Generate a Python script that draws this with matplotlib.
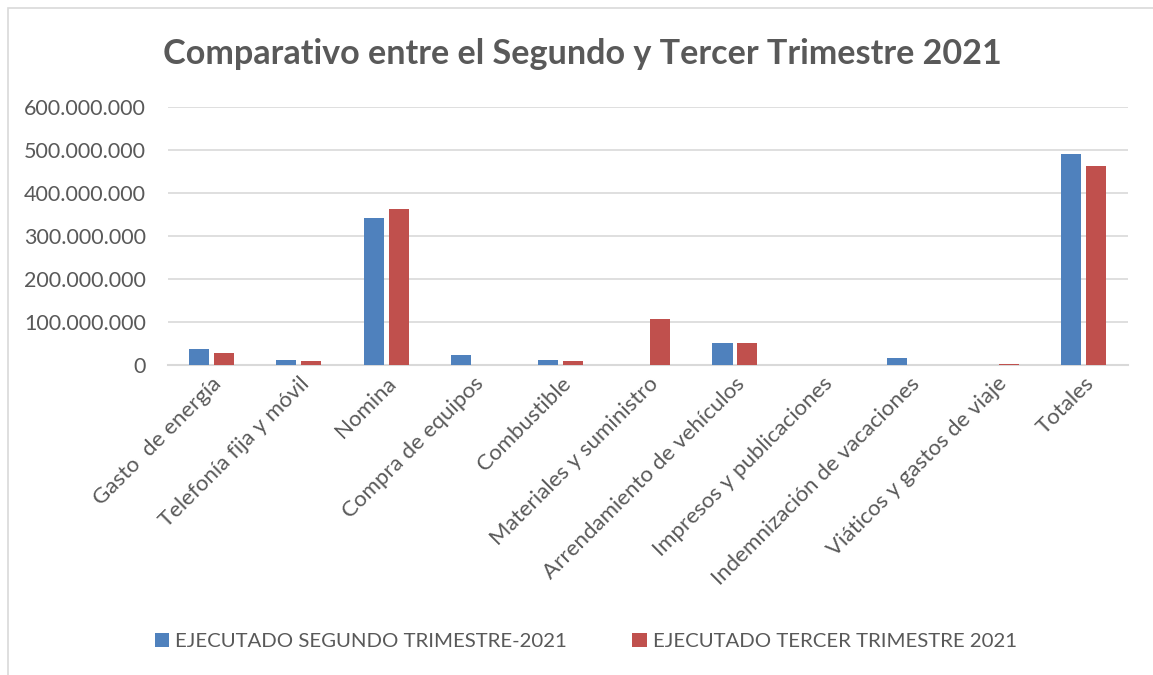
import numpy as np
import matplotlib.pyplot as plt
from matplotlib.ticker import FuncFormatter
from matplotlib.patches import Rectangle

plt.rcParams['font.family'] = ['Lato', 'DejaVu Sans']

categorias = ["Gasto  de energía", "Telefonía fija y móvil", "Nomina", "Compra de equipos",
              "Combustible", "Materiales y suministro", "Arrendamiento de vehículos",
              "Impresos y publicaciones", "Indemnización de vacaciones",
              "Viáticos y gastos de viaje", "Totales"]
segundo = [37e6, 11e6, 342e6, 23e6, 11.5e6, 0, 51e6, 0, 16e6, 0, 491e6]
tercero = [28e6, 9e6, 362e6, 0, 8.5e6, 106e6, 51e6, 0, 0, 3e6, 463e6]
serie_nombres = ["EJECUTADO SEGUNDO TRIMESTRE-2021", "EJECUTADO TERCER TRIMESTRE 2021"]

gris = '#595959'
azul = '#4f81bd'
rojo = '#c0504d'

fig = plt.figure(figsize=(11.53, 6.75), dpi=100)
ax = fig.add_axes([0.1457, 0.4593, 0.8322, 0.3822])

# borde del grafico
fig.patches.append(Rectangle((8 / 1153, -0.1), 1.2, 1 - 8 / 675 + 0.1, transform=fig.transFigure,
                             fill=False, edgecolor='#d9d9d9', lw=1.2))

x = np.arange(len(categorias))
w = 0.23
ax.bar(x - 0.143, segundo, w, color=azul, label=serie_nombres[0], zorder=3)
ax.bar(x + 0.143, tercero, w, color=rojo, label=serie_nombres[1], zorder=3)

ax.set_xlim(-0.5, len(categorias) - 0.5)
ax.set_ylim(0, 600e6)
ax.set_yticks(np.arange(0, 600e6 + 1, 100e6))
ax.yaxis.set_major_formatter(FuncFormatter(lambda v, p: f"{int(v):,}".replace(",", ".")))
ax.grid(axis='y', color='#d9d9d9', lw=1.2, zorder=0)
for s in ['top', 'right', 'left']:
    ax.spines[s].set_visible(False)
ax.spines['bottom'].set_color('#d9d9d9')
ax.spines['bottom'].set_linewidth(1.5)
ax.tick_params(axis='y', length=0, pad=16, labelsize=15.5, labelcolor=gris)
ax.tick_params(axis='x', length=0, pad=6, labelsize=16, labelcolor=gris)
ax.set_xticks(x)
ax.set_xticklabels(categorias, rotation=45, ha='right', rotation_mode='anchor')

fig.text(0.505, 0.92, "Comparativo entre el Segundo y Tercer Trimestre 2021", ha='center', va='center',
         fontsize=24.6, fontweight='bold', color=gris)

fig.legend(loc='center', bbox_to_anchor=(0.508, 0.05), ncol=2, frameon=False, fontsize=14.7,
           labelcolor=gris, handlelength=0.7, handleheight=0.7, handletextpad=0.3, columnspacing=3.2)

fig.savefig('out.png', dpi=100)
